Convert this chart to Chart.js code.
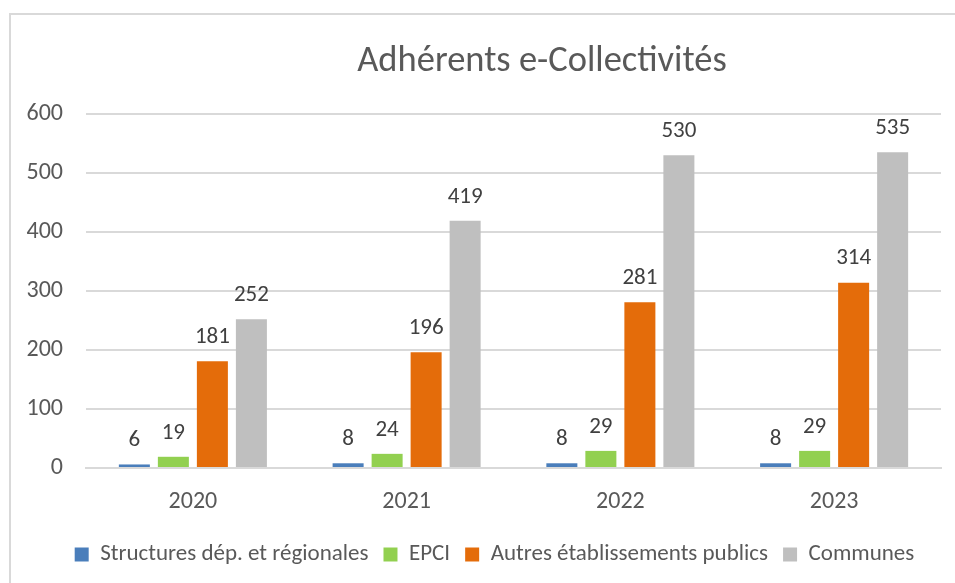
<!DOCTYPE html>
<html lang="fr">
<head>
<meta charset="UTF-8">
<title>Adhérents e-Collectivités</title>
<script src="https://cdn.jsdelivr.net/npm/chart.js"></script>
<style>
  html, body { margin: 0; padding: 0; background: #fff; }
  #wrap { width: 955px; height: 583px; }
</style>
</head>
<body>
<div id="wrap"><canvas id="myChart" width="955" height="583"></canvas></div>
<script>
const years = ['2020', '2021', '2022', '2023'];
const structures = [6, 8, 8, 8];
const epci = [19, 24, 29, 29];
const autres = [181, 196, 281, 314];
const communes = [252, 419, 530, 535];
const yTicks = [0, 100, 200, 300, 400, 500, 600];

const FONT = 'Carlito, Lato, "Liberation Sans", sans-serif';
const textGrey = '#595959';

// frame + title, like the Excel chart box
const frameAndTitle = {
    id: 'frameAndTitle',
    beforeDraw(chart) {
        const ctx = chart.ctx;
        ctx.save();
        ctx.fillStyle = '#fff';
        ctx.fillRect(0, 0, chart.width, chart.height);
        ctx.strokeStyle = '#D9D9D9';
        ctx.lineWidth = 2;
        ctx.strokeRect(10, 14, 1000, 1000);
        ctx.fillStyle = textGrey;
        ctx.font = '300 36.5px ' + FONT;
        ctx.textAlign = 'center';
        ctx.textBaseline = 'alphabetic';
        ctx.fillText('Adhérents e-Collectivités', 542, 71);
        ctx.restore();
    }
};

// push the legend a bit to the right, as in the original
const legendShift = {
    id: 'legendShift',
    afterLayout(chart) {
        if (chart.legend) chart.legend.left += 48;
    }
};

// value above each bar
const valueLabels = {
    id: 'valueLabels',
    afterDatasetsDraw(chart) {
        const ctx = chart.ctx;
        ctx.save();
        ctx.fillStyle = '#404040';
        ctx.font = '23px ' + FONT;
        ctx.textAlign = 'center';
        ctx.textBaseline = 'middle';
        chart.data.datasets.forEach((ds, i) => {
            chart.getDatasetMeta(i).data.forEach((bar, j) => {
                ctx.fillText(ds.data[j], bar.x, bar.y - 24);
            });
        });
        ctx.restore();
    }
};

const ctx = document.getElementById('myChart').getContext('2d');
new Chart(ctx, {
    type: 'bar',
    data: {
        labels: years,
        datasets: [
            { label: 'Structures dép. et régionales', data: structures, backgroundColor: '#4A7EBB' },
            { label: 'EPCI', data: epci, backgroundColor: '#92D050' },
            { label: 'Autres établissements publics', data: autres, backgroundColor: '#E46C0A' },
            { label: 'Communes', data: communes, backgroundColor: '#BFBFBF' }
        ]
    },
    options: {
        responsive: false,
        devicePixelRatio: 1,
        animation: false,
        layout: { padding: { top: 114, right: 14, left: 0, bottom: 7 } },
        datasets: {
            bar: { categoryPercentage: 0.73, barPercentage: 0.795 }
        },
        scales: {
            x: {
                grid: { display: false, drawTicks: false },
                border: { display: true, color: '#D9D9D9', width: 2 },
                ticks: { color: textGrey, font: { family: FONT, size: 24 }, padding: 20 },
                afterFit(scale) { scale.height = 60; }
            },
            y: {
                min: 0,
                max: 600,
                afterBuildTicks(scale) { scale.ticks = yTicks.map(v => ({ value: v })); },
                grid: { color: '#D9D9D9', lineWidth: 2, drawTicks: false },
                border: { display: false },
                ticks: { color: textGrey, font: { family: FONT, size: 24 }, padding: 23 },
                afterFit(scale) { scale.width = 86; }
            }
        },
        plugins: {
            title: { display: false },
            tooltip: { enabled: false },
            legend: {
                position: 'bottom',
                labels: {
                    color: textGrey,
                    font: { family: FONT, size: 23 },
                    boxWidth: 14,
                    boxHeight: 14,
                    padding: 15
                }
            }
        }
    },
    plugins: [frameAndTitle, legendShift, valueLabels]
});
</script>
</body>
</html>
